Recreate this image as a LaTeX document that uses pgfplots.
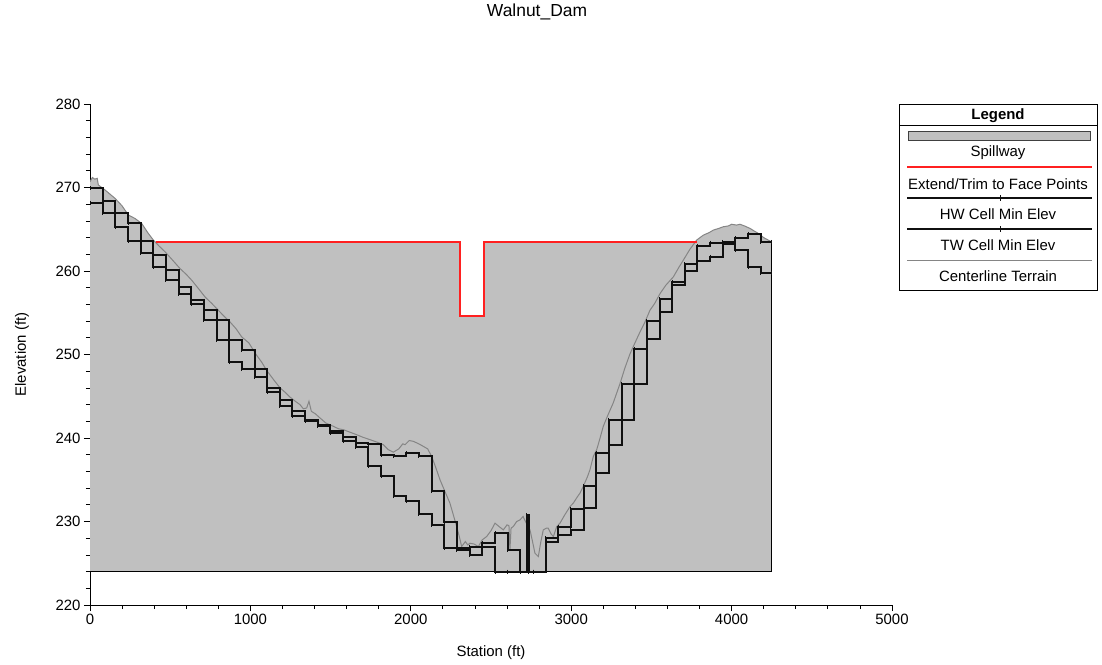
\documentclass[border=0pt]{standalone}
\usepackage{pgfplots}
\pgfplotsset{compat=1.18}
\usepackage{fontspec}
\setmainfont{Liberation Sans}
\definecolor{spill}{HTML}{C0C0C0}
\definecolor{terrainGray}{HTML}{858585}
\definecolor{faceRed}{HTML}{FF2020}
\definecolor{stepBlack}{HTML}{101010}
\newcommand{\lblfont}{\fontsize{15}{18}\selectfont}

\begin{document}
\begin{tikzpicture}
\begin{axis}[
    width=802bp, height=501bp, scale only axis,
    at={(90bp,-605bp)}, anchor=south west,
    xmin=0, xmax=5000, ymin=220, ymax=280,
    axis x line*=bottom, axis y line*=left,
    xtick={0,1000,...,5000}, ytick={220,230,...,280},
    minor x tick num=4, minor y tick num=4,
    tick align=outside, major tick length=6bp, minor tick length=4bp,
    tick style={black, line width=0.8bp},
    axis line style={black, line width=1bp},
    scaled x ticks=false,
    xticklabel style={/pgf/number format/1000 sep={}},
    /pgf/number format/assume math mode=true,
    tick label style={font=\lblfont},
    label style={font=\lblfont},
    xlabel={Station (ft)}, ylabel={Elevation (ft)},
    xlabel style={at={(axis description cs:0.5,-0.0958)}, anchor=center},
    ylabel style={at={(axis description cs:-0.0848,0.5)}, anchor=center},
]
  % spillway area
  \addplot[fill=spill, draw=none] coordinates {
    (0,224) (0,270.7) (15,271.2) (30,271.0) (45,271.1) (52,270.3) (94,269.7)
    (156,268.7) (200,267.8) (239,266.7) (280,266.3) (322,265.7) (360,264.6)
    (395,263.7) (410,263.5) (2307,263.5) (2307,254.6) (2458,254.6) (2458,263.5)
    (3782,263.5) (3782,263.7) (3824,264.3) (3860,264.6) (3886,264.9) (3920,265.1)
    (3948,265.3) (3980,265.4) (4000,265.6) (4030,265.5) (4052,265.6) (4080,265.4)
    (4115,265.1) (4140,264.8) (4167,264.5) (4200,264.0) (4229,263.7) (4250,263.5)
    (4250,224)} -- cycle;
  \addplot[black, line width=1bp] coordinates {(4250,263.6) (4250,224) (0,224)};

  % centerline terrain
  \addplot[terrainGray, line width=1bp] coordinates {
    (0,270.7) (15,271.2) (30,271.0) (45,271.1) (52,270.3) (94,269.7) (156,268.7)
    (200,267.8) (239,266.7) (280,266.3) (322,265.7) (360,264.6) (395,263.7)
    (430,263.0) (468,262.3) (515,261.3) (561,260.3) (600,259.6) (634,258.9)
    (680,257.8) (717,256.9) (760,256.1) (800,255.3) (840,254.5) (873,253.9)
    (910,253.1) (946,252.1) (990,251.4) (1039,249.9) (1070,249.1) (1101,248.1)
    (1140,247.1) (1185,246.0) (1215,245.5) (1247,244.9) (1280,244.4) (1309,244.0)
    (1330,243.5) (1351,243.6) (1365,244.4) (1380,243.2) (1405,242.9) (1434,242.4)
    (1470,241.8) (1517,241.4) (1550,241.1) (1579,241.0) (1620,240.7) (1662,240.4)
    (1700,240.1) (1746,239.8) (1790,239.5) (1829,239.2) (1860,238.6) (1891,238.3)
    (1925,238.7) (1950,239.3) (1964,239.2) (1990,239.7) (2016,239.6) (2050,239.3)
    (2078,239.0) (2105,238.7) (2130,237.8) (2155,236.5) (2182,235.0) (2215,233.5)
    (2244,232.2) (2265,230.8) (2286,229.4) (2305,228.0) (2317,227.0) (2340,227.6)
    (2355,227.2) (2369,227.4) (2395,227.3) (2421,227.0) (2445,227.8) (2473,228.2)
    (2500,228.9) (2525,229.8) (2550,229.4) (2577,229.0) (2600,229.6) (2612,229.5)
    (2618,226.6) (2625,229.2) (2639,229.4) (2660,230.0) (2681,230.2) (2700,230.6)
    (2720,229.8) (2743,229.0) (2760,227.5) (2774,226.2) (2795,225.8) (2810,227.5)
    (2826,229.0) (2845,229.2) (2857,229.2) (2875,228.5) (2889,228.2) (2910,229.4)
    (2930,229.8) (2960,230.8) (2993,231.8) (3013,232.2) (3040,233.0) (3055,233.4)
    (3075,234.2) (3100,235.3) (3117,236.2) (3138,237.8) (3159,238.6) (3180,240.0)
    (3200,241.4) (3230,242.8) (3262,244.2) (3304,246.5) (3335,248.4) (3367,250.1)
    (3400,251.5) (3429,252.7) (3460,253.9) (3491,255.3) (3520,256.1) (3554,257.3)
    (3590,258.3) (3637,259.3) (3670,260.4) (3699,261.3) (3740,262.6) (3782,263.7)
    (3824,264.3) (3860,264.6) (3886,264.9) (3920,265.1) (3948,265.3) (3980,265.4)
    (4000,265.6) (4030,265.5) (4052,265.6) (4080,265.4) (4115,265.1) (4140,264.8)
    (4167,264.5) (4200,264.0) (4229,263.7) (4250,263.5)};

  % extend/trim to face points
  \addplot[faceRed, line width=1.8bp] coordinates {
    (410,263.5) (2307,263.5) (2307,254.6) (2458,254.6) (2458,263.5) (3782,263.5)};

  % HW cell min elev
  \addplot[const plot, stepBlack, line width=2bp, mark=|, mark size=2bp,
           mark options={solid, line width=1bp}] coordinates {
    (0,269.9) (79,268.4) (158,266.9) (237,265.7) (316,263.6) (395,261.9)
    (473,260.1) (552,258.1) (631,256.5) (710,255.3) (789,254.1) (868,251.7)
    (947,250.5) (1026,248.3) (1105,246.0) (1184,244.6) (1262,243.2) (1341,242.2)
    (1420,241.6) (1499,240.8) (1578,240.1) (1657,239.4) (1736,239.3) (1815,238.0)
    (1894,237.8) (1973,238.2) (2051,237.8) (2130,233.6) (2209,230.0) (2288,226.8)
    (2367,227.0) (2446,227.4) (2525,228.6) (2604,226.6) (2683,224.0) (2722,230.8)
    (2734,224.0) (2762,224.0) (2840,228.0) (2919,229.4) (2998,231.5) (3077,234.3)
    (3156,238.2) (3235,242.2) (3314,246.5) (3393,250.7) (3472,254.0) (3551,256.6)
    (3629,258.7) (3708,260.8) (3787,263.0) (3866,263.4) (3945,263.5) (4024,263.9)
    (4103,264.4) (4182,263.5) (4250,263.5)};

  % TW cell min elev
  \addplot[const plot, stepBlack, line width=2bp, mark=|, mark size=2bp,
           mark options={solid, line width=1bp}] coordinates {
    (0,268.2) (79,266.9) (158,265.3) (237,263.6) (316,262.1) (395,260.5)
    (473,258.9) (552,257.3) (631,256.1) (710,254.1) (789,251.7) (868,249.1)
    (947,248.3) (1026,247.3) (1105,245.5) (1184,243.8) (1262,242.6) (1341,242.0)
    (1420,241.4) (1499,240.6) (1578,239.6) (1657,238.9) (1736,236.6) (1815,235.4)
    (1894,233.0) (1973,232.5) (2051,230.9) (2130,229.6) (2209,226.8) (2288,226.6)
    (2367,226.0) (2446,226.9) (2525,224.0) (2604,224.0) (2683,224.0) (2762,224.0)
    (2840,227.6) (2919,228.4) (2998,229.0) (3077,231.6) (3156,235.8) (3235,239.2)
    (3314,242.2) (3393,246.5) (3472,251.8) (3551,255.1) (3629,258.3) (3708,260.0)
    (3787,261.2) (3866,261.7) (3945,263.2) (4024,262.5) (4103,260.5) (4182,259.8)
    (4250,259.8)};
\end{axis}

% title
\node[font=\fontsize{17.5}{21}\selectfont, anchor=base] at (537bp,-16bp) {Walnut\_Dam};

% legend box
\draw[black, line width=1bp] (899bp,-104bp) rectangle (1097bp,-290bp);
\draw[black, line width=1bp] (899bp,-125bp) -- (1097bp,-125bp);
\node[font=\lblfont\bfseries] at (998bp,-116bp) {Legend};
\draw[fill=spill, draw=black!75, line width=1bp] (908bp,-131bp) rectangle (1090bp,-140bp);
\node[font=\lblfont] at (998bp,-153bp) {Spillway};
\draw[faceRed, line width=1.5bp] (907bp,-167bp) -- (1092bp,-167bp);
\node[font=\lblfont] at (998bp,-184bp) {Extend/Trim to Face Points};
\draw[stepBlack, line width=1.3bp] (907bp,-198bp) -- (1092bp,-198bp);
\draw[stepBlack, line width=1bp] (1000bp,-195bp) -- (1000bp,-201bp);
\node[font=\lblfont] at (998bp,-214.5bp) {HW Cell Min Elev};
\draw[stepBlack, line width=1.3bp] (907bp,-229bp) -- (1092bp,-229bp);
\draw[stepBlack, line width=1bp] (1000bp,-226bp) -- (1000bp,-232bp);
\node[font=\lblfont] at (998bp,-245.5bp) {TW Cell Min Elev};
\draw[terrainGray, line width=1bp] (907bp,-260bp) -- (1092bp,-260bp);
\node[font=\lblfont] at (998bp,-276.5bp) {Centerline Terrain};

\pgfresetboundingbox
\path[use as bounding box] (0bp,0bp) rectangle (1102bp,-665bp);
\end{tikzpicture}
\end{document}
